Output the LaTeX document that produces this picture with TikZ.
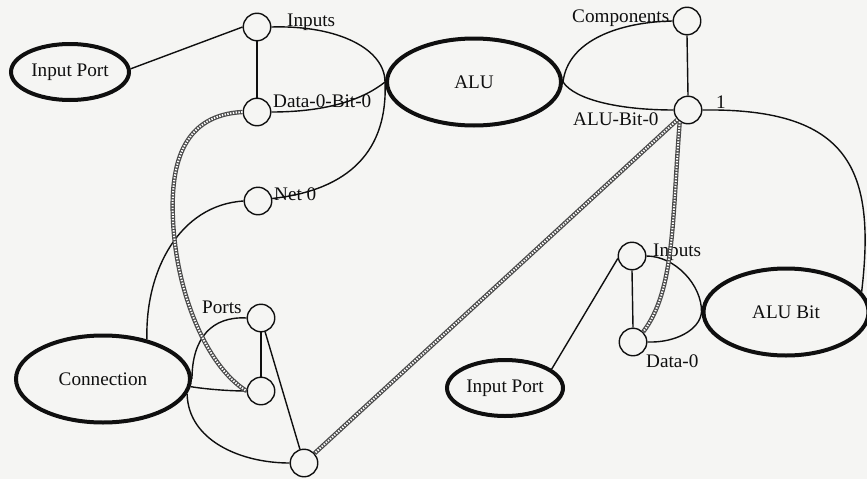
\documentclass[tikz,border=0pt]{standalone}
\usepackage{fontspec}
\setmainfont{Liberation Serif}
\usetikzlibrary{shapes.geometric}
\definecolor{paper}{RGB}{245,245,243}
\definecolor{ink}{RGB}{15,15,15}
\definecolor{hatch}{RGB}{75,75,75}
\begin{document}
\begin{tikzpicture}[x=1pt,y=-1pt,
  every node/.style={font=\fontsize{19.2}{21}\selectfont, text=ink},
  obj/.style={ellipse, draw=ink, line width=4pt, inner sep=0pt},
  slot/.style={circle, draw=ink, line width=1.4pt, minimum size=27.5pt, inner sep=0pt},
  lbl/.style={anchor=base west, inner sep=0pt},
  link/.style={draw=ink, line width=1.4pt},
  ref/.style={draw=hatch, line width=4.4pt,
    postaction={draw=white, line width=2pt, dash pattern=on 1.4pt off 1.4pt}},
]
% paper
\fill[paper] (0,0) rectangle (867,479);
\useasboundingbox (0,0) rectangle (867,479);

% object nodes
\node[obj, minimum width=118pt, minimum height=56pt] (ipL) at (70,72) {Input Port};
\node[obj, minimum width=174pt, minimum height=87pt] (alu) at (474,82) {ALU};
\node[obj, minimum width=174pt, minimum height=87pt] (conn) at (103,379) {Connection};
\node[obj, minimum width=165pt, minimum height=87pt] (alubit) at (786,312) {ALU Bit};
\node[obj, minimum width=116pt, minimum height=56pt] (ipR) at (505,388) {Input Port};

% slot nodes
\node[slot] (inA) at (257,27) {};
\node[slot] (dbA) at (257,112) {};
\node[slot] (net) at (258,201) {};
\node[slot] (ports) at (261,318) {};
\node[slot] (pmid) at (261,391) {};
\node[slot] (pbot) at (304,463) {};
\node[slot] (comp) at (687,21) {};
\node[slot] (ab0) at (688,110) {};
\node[slot] (inB) at (632,256) {};
\node[slot] (d0) at (633,342) {};

% slot labels
\node[lbl] (tInA) at (287,26) {Inputs};
\node[lbl] (tDbA) at (273,107) {Data-0-Bit-0};
\node[lbl] (tNet) at (274,200) {Net 0};
\node[lbl] (tPorts) at (202,313) {Ports};
\node[lbl] (tComp) at (572,23) {Components};
\node[lbl] (tAb0) at (573,125) {ALU-Bit-0};
\node[lbl] (tOne) at (716,108) {1};
\node[lbl] (tInB) at (653,256) {Inputs};
\node[lbl] (tD0) at (646,367) {Data-0};

% left structure
\draw[link] (ipL.3) -- (inA.west);
\draw[link] (inA.south) -- (dbA.north);
\draw[link] (inA.east) .. controls (340,25) and (385,50) .. (alu.west);
\draw[link] (dbA.east) .. controls (330,112) and (365,98) .. (alu.west);
\draw[link] (net.10) .. controls (350,190) and (388,150) .. (alu.west);
\draw[link] (conn.42) .. controls (145,270) and (180,205) .. (net.west);
\draw[link] (ports.west) .. controls (212,316) and (192,338) .. (conn.east);
\draw[link] (conn.-5) .. controls (205,389) and (228,391) .. (pmid.west);
\draw[link] (conn.-10) .. controls (188,440) and (240,463) .. (pbot.west);
\draw[link] (ports.south) -- (pmid.north);
\draw[link] (ports) -- (pbot);

% right structure
\draw[link] (alu.east) .. controls (568,40) and (620,22) .. (comp.west);
\draw[link] (alu.east) .. controls (575,100) and (620,110) .. (ab0.west);
\draw[link] (comp.south) -- (ab0.north);
\draw[link] (ab0.east) .. controls (850,108) and (876,170) .. (alubit.15);
\draw[link] (inB.east) .. controls (675,256) and (702,285) .. (alubit.west);
\draw[link] (d0.east) .. controls (675,343) and (700,330) .. (alubit.west);
\draw[link] (inB.south) -- (d0.north);
\draw[link] (ipR.22) -- (inB.190);

% reference links
\draw[ref] (dbA.west) .. controls (185,115) and (170,160) .. (173,220)
  .. controls (176,290) and (205,365) .. (pmid.west);
\draw[ref] (ab0) -- (pbot);
\draw[ref] (ab0.-125) .. controls (672,220) and (675,290) .. (d0.45);
\end{tikzpicture}
\end{document}
